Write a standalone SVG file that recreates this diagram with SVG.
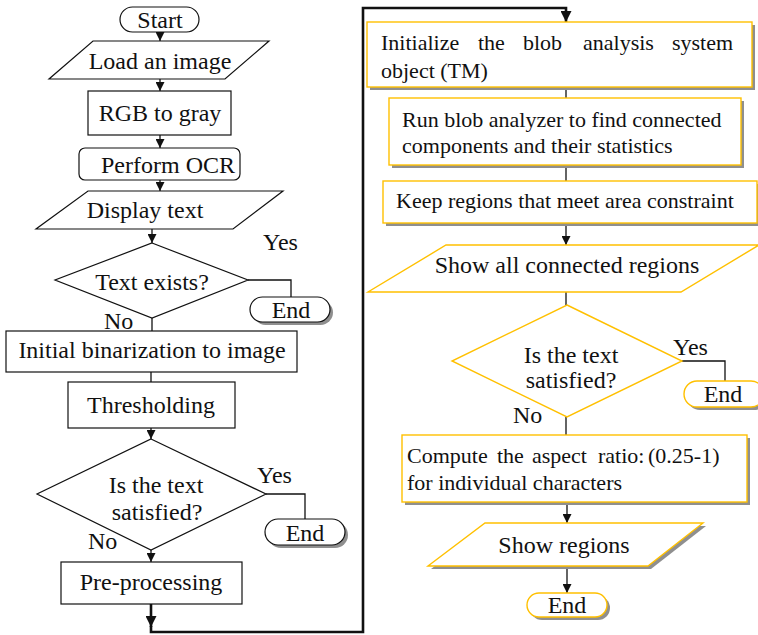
<svg xmlns="http://www.w3.org/2000/svg" width="758" height="635" viewBox="0 0 758 635" font-family="'Liberation Serif', 'Times New Roman', Times, 'DejaVu Serif', serif">
  <style>
    text { font-family: 'Liberation Serif', 'Times New Roman', Times, 'DejaVu Serif', serif; font-size: 24px; fill: #111; }
    .s22 { font-size: 22px; }
    .mid { text-anchor: middle; }
    .k { fill: #fff; stroke: #111; stroke-width: 1.2; }
    .y { fill: #fff; stroke: #FFC000; stroke-width: 1.4; }
    .sh { fill: #8f8f8f; stroke: none; }
    .ln { fill: none; stroke: #111; stroke-width: 1.3; }
    .loop { fill: none; stroke: #111; stroke-width: 2.6; }
  </style>
  <defs>
    <marker id="arrow" viewBox="0 0 10 10" refX="10" refY="5" markerWidth="9" markerHeight="9" markerUnits="userSpaceOnUse" orient="auto">
      <path d="M0,0 L10,5 L0,10 z" fill="#111"/>
    </marker>
    <marker id="arrowBig" viewBox="0 0 10 10" refX="10" refY="5" markerWidth="11" markerHeight="11" markerUnits="userSpaceOnUse" orient="auto">
      <path d="M0,0 L10,5 L0,10 z" fill="#111"/>
    </marker>
  </defs>

  <!-- connectors -->
  <g id="connectors">
    <path class="ln" d="M160,32 V41" marker-end="url(#arrow)"/>
    <path class="ln" d="M160,79 V91" marker-end="url(#arrow)"/>
    <path class="ln" d="M160,135 V148" marker-end="url(#arrow)"/>
    <path class="ln" d="M160,180 V191" marker-end="url(#arrow)"/>
    <path class="ln" d="M152,229 V243" marker-end="url(#arrow)"/>
    <path class="ln" d="M152,318 V331"/>
    <path class="ln" d="M248,280 H291 V297"/>
    <path class="ln" d="M151,372 V382"/>
    <path class="ln" d="M151,428 V439" marker-end="url(#arrow)"/>
    <path class="ln" d="M266,494 H305 V519"/>
    <path class="ln" d="M151,550 V562" marker-end="url(#arrow)"/>
    <path class="loop" d="M151,604 V627" marker-end="url(#arrowBig)"/>
    <path class="loop" d="M151,626 V632 H363 V8 H566 V22" marker-end="url(#arrowBig)"/>
    <path class="ln" d="M566,87 V98"/>
    <path class="ln" d="M566,165 V181"/>
    <path class="ln" d="M566,223 V245" marker-end="url(#arrow)"/>
    <path class="ln" d="M566,292 V305"/>
    <path class="ln" d="M682,361 H725 V381"/>
    <path class="ln" d="M566,417 V435"/>
    <path class="ln" d="M567,502 V523" marker-end="url(#arrow)"/>
    <path class="ln" d="M567,566 V593" marker-end="url(#arrow)"/>
  </g>

  <!-- left column -->
  <g id="start">
    <rect class="k" x="120" y="7" width="79" height="25" rx="12.5"/>
    <text class="mid" x="160" y="28">Start</text>
  </g>
  <g id="load-image">
    <polygon class="k" points="93,41 269,41 225,79 49,79"/>
    <text class="mid" x="160" y="69">Load an image</text>
  </g>
  <g id="rgb-to-gray">
    <rect class="k" x="88" y="91" width="143" height="44"/>
    <text class="mid" x="160" y="121">RGB to gray</text>
  </g>
  <g id="perform-ocr">
    <rect class="k" x="79" y="148" width="161" height="32" rx="6"/>
    <text class="mid" x="168" y="173">Perform OCR</text>
  </g>
  <g id="display-text">
    <polygon class="k" points="88,191 283,191 233,229 36,229"/>
    <text class="mid" x="145" y="218">Display text</text>
  </g>
  <g id="text-exists">
    <polygon class="k" points="152,243 248,280 152,318 55,280"/>
    <text class="mid" x="152" y="290">Text exists?</text>
    <text x="263" y="250">Yes</text>
    <text x="104" y="329">No</text>
  </g>
  <g id="end-1">
    <rect class="sh" x="253" y="300" width="80" height="25" rx="12.5"/>
    <rect class="k" x="250" y="297" width="80" height="25" rx="12.5"/>
    <text class="mid" x="291" y="318">End</text>
  </g>
  <g id="initial-binarization">
    <rect class="k" x="6" y="331" width="291" height="41"/>
    <text class="mid" x="152" y="358">Initial binarization to image</text>
  </g>
  <g id="thresholding">
    <rect class="k" x="68" y="382" width="167" height="46"/>
    <text class="mid" x="151" y="413">Thresholding</text>
  </g>
  <g id="text-satisfied-1">
    <polygon class="k" points="151,439 266,494 151,550 37,494"/>
    <text class="mid" x="156" y="493">Is the text</text>
    <text class="mid" x="157" y="520">satisfied?</text>
    <text x="257" y="483">Yes</text>
    <text x="88" y="549">No</text>
  </g>
  <g id="end-2">
    <rect class="sh" x="268" y="522" width="80" height="26" rx="13"/>
    <rect class="k" x="265" y="519" width="80" height="26" rx="13"/>
    <text class="mid" x="305" y="541">End</text>
  </g>
  <g id="pre-processing">
    <rect class="k" x="61" y="562" width="181" height="42"/>
    <text class="mid" x="151" y="590">Pre-processing</text>
  </g>

  <!-- right column -->
  <g id="init-blob">
    <rect class="sh" x="370" y="25" width="385" height="65"/>
    <rect class="y" x="367" y="22" width="385" height="65"/>
    <!-- justified first line: words placed individually -->
    <text class="s22" y="50"><tspan x="381">Initialize</tspan><tspan x="478">the</tspan><tspan x="523">blob</tspan><tspan x="583">analysis</tspan><tspan x="672">system</tspan></text>
    <text class="s22" x="381" y="78">object (TM)</text>
  </g>
  <g id="run-blob">
    <rect class="sh" x="392" y="101" width="352" height="67"/>
    <rect class="y" x="389" y="98" width="352" height="67"/>
    <text class="s22" x="402" y="127">Run blob analyzer to find connected</text>
    <text class="s22" x="402" y="153">components and their statistics</text>
  </g>
  <g id="keep-regions">
    <rect class="sh" x="386" y="184" width="374" height="42"/>
    <rect class="y" x="383" y="181" width="374" height="42"/>
    <text class="s22" x="396" y="208">Keep regions that meet area constraint</text>
  </g>
  <g id="show-connected">
    <polygon class="y" points="446,245 759,245 681,292 368,292"/>
    <text class="mid" x="567" y="273">Show all connected regions</text>
  </g>
  <g id="text-satisfied-2">
    <polygon class="y" points="567,305 682,361 567,417 452,361"/>
    <text class="mid" x="571" y="363">Is the text</text>
    <text class="mid" x="571" y="388">satisfied?</text>
    <text x="673" y="355">Yes</text>
    <text x="513" y="423">No</text>
  </g>
  <g id="end-3">
    <rect class="sh" x="687" y="384" width="80" height="26" rx="13"/>
    <rect class="y" x="684" y="381" width="80" height="26" rx="13"/>
    <text class="mid" x="723" y="402">End</text>
  </g>
  <g id="aspect-ratio">
    <rect class="sh" x="405" y="438" width="345" height="67"/>
    <rect class="y" x="402" y="435" width="345" height="67"/>
    <text class="s22" y="463"><tspan x="407">Compute</tspan><tspan x="497">the</tspan><tspan x="532">aspect</tspan><tspan x="598">ratio:</tspan><tspan x="648">(0.25-1)</tspan></text>
    <text class="s22" x="407" y="490">for individual characters</text>
  </g>
  <g id="show-regions">
    <polygon class="sh" points="488,526 706,526 651,569 431,569"/>
    <polygon class="y" points="485,523 703,523 648,566 428,566"/>
    <text class="mid" x="564" y="553">Show regions</text>
  </g>
  <g id="end-4">
    <rect class="sh" x="530" y="596" width="80" height="24" rx="12"/>
    <rect class="y" x="527" y="593" width="80" height="24" rx="12"/>
    <text class="mid" x="567" y="613">End</text>
  </g>
</svg>
